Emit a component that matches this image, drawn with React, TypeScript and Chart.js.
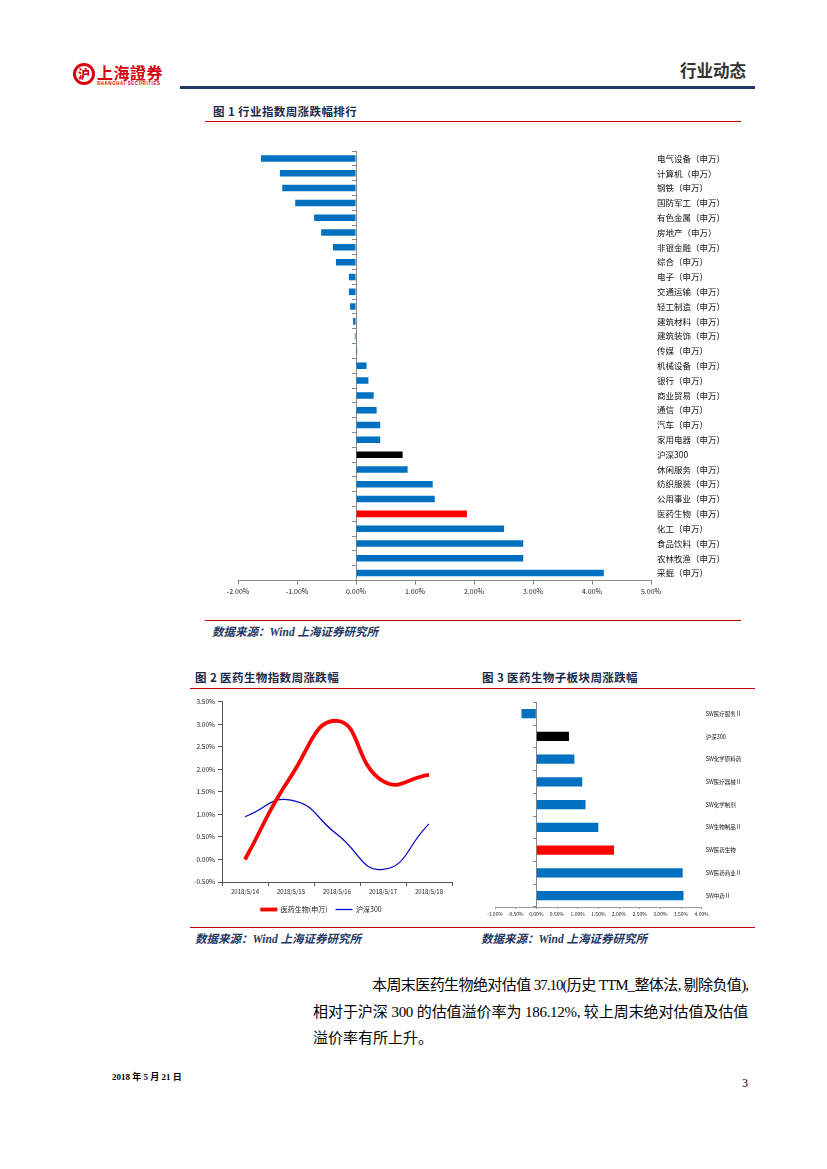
import React, { useEffect, useRef } from 'react';
import { Chart, registerables } from 'chart.js';

Chart.register(...registerables);

// ---------- data ----------
const industries = [
  '电气设备（申万）', '计算机（申万）', '钢铁（申万）', '国防军工（申万）', '有色金属（申万）',
  '房地产（申万）', '非银金融（申万）', '综合（申万）', '电子（申万）', '交通运输（申万）',
  '轻工制造（申万）', '建筑材料（申万）', '建筑装饰（申万）', '传媒（申万）', '机械设备（申万）',
  '银行（申万）', '商业贸易（申万）', '通信（申万）', '汽车（申万）', '家用电器（申万）',
  '沪深300', '休闲服务（申万）', '纺织服装（申万）', '公用事业（申万）', '医药生物（申万）',
  '化工（申万）', '食品饮料（申万）', '农林牧渔（申万）', '采掘（申万）',
];
const industryChanges = [
  -1.61, -1.29, -1.25, -1.03, -0.71,
  -0.59, -0.39, -0.34, -0.12, -0.12,
  -0.10, -0.05, -0.02, 0.02, 0.18,
  0.21, 0.30, 0.35, 0.41, 0.41,
  0.79, 0.875, 1.30, 1.335, 1.88,
  2.51, 2.835, 2.835, 4.20,
];
const industryTicks = { min: -2, max: 5, step: 1 };

const weekDates = ['2018/5/14', '2018/5/15', '2018/5/16', '2018/5/17', '2018/5/18'];
const pharmaCum = [0.0, 1.85, 3.08, 1.74, 1.88];
const hs300Cum = [0.95, 1.32, 0.56, -0.22, 0.79];
const lineSeriesNames = ['医药生物(申万)', '沪深300'];
const lineTicks = { min: -0.5, max: 3.5, step: 0.5 };

const subSectors = [
  'SW医疗服务Ⅱ', '沪深300', 'SW化学原料药', 'SW医疗器械Ⅱ', 'SW化学制剂',
  'SW生物制品Ⅱ', 'SW医药生物', 'SW医药商业Ⅱ', 'SW中药Ⅱ',
];
const subChanges = [-0.36, 0.79, 0.92, 1.11, 1.19, 1.50, 1.88, 3.54, 3.56];
const subTicks = { min: -1, max: 4, step: 0.5 };

// ---------- styles ----------
const BLUE = '#0070C0';
const RED = '#FF0000';
const BLACK = '#000000';
const NAVY = '#1F3864';
const CJK = '"Noto Sans CJK SC", sans-serif';
const SERIF = '"Liberation Serif", "Noto Sans CJK SC", serif';

Chart.defaults.font.family = CJK;

const barColor = (label: string) =>
  label === '沪深300' ? BLACK : label.indexOf('医药生物') >= 0 ? RED : BLUE;

const pct = (v: any) => Number(v).toFixed(2) + '%';

function useChart(ref: React.RefObject<HTMLCanvasElement>, make: () => any) {
  useEffect(() => {
    if (!ref.current) return;
    const chart = new Chart(ref.current, make());
    return () => chart.destroy();
  }, []);
}

function Box(props: { x: number; y: number; w: number; h: number; children?: any }) {
  return (
    <div style={{ position: 'absolute', left: props.x, top: props.y, width: props.w, height: props.h }}>
      {props.children}
    </div>
  );
}

function Txt(props: {
  x: number; y: number; size: number; children: any; color?: string; bold?: boolean;
  italic?: boolean; family?: string; w?: number; justify?: boolean; spacing?: number;
}) {
  const lh = Math.round(props.size * 1.3);
  return (
    <div
      style={{
        position: 'absolute',
        left: props.x,
        top: props.y - lh / 2,
        width: props.w,
        height: lh,
        lineHeight: lh + 'px',
        fontSize: props.size,
        color: props.color || '#000',
        fontWeight: props.bold ? 700 : 400,
        fontStyle: props.italic ? 'italic' : 'normal',
        fontFamily: props.family || CJK,
        whiteSpace: 'nowrap',
        textAlign: props.justify ? 'justify' : 'left',
        textAlignLast: props.justify ? 'justify' : 'auto',
        letterSpacing: props.spacing || 0,
      } as React.CSSProperties}
    >
      {props.children}
    </div>
  );
}

function Line(props: { x: number; y: number; w: number; h: number; color: string }) {
  return (
    <div style={{ position: 'absolute', left: props.x, top: props.y, width: props.w, height: props.h, background: props.color }} />
  );
}

function IndustryChart() {
  const ref = useRef<HTMLCanvasElement>(null);
  useChart(ref, () => ({
    type: 'bar',
    data: {
      labels: industries,
      datasets: [{
        data: industryChanges,
        backgroundColor: industries.map(barColor),
        barPercentage: 1,
        categoryPercentage: 0.44,
      }],
    },
    options: {
      indexAxis: 'y',
      animation: false,
      responsive: true,
      maintainAspectRatio: false,
      layout: { padding: { left: 38, top: 8, right: 0, bottom: 0 } },
      plugins: { legend: { display: false }, tooltip: { enabled: false } },
      scales: {
        x: {
          type: 'linear', min: industryTicks.min, max: industryTicks.max,
          ticks: { stepSize: industryTicks.step, callback: pct, font: { size: 7 }, color: '#222', padding: 3, autoSkip: false, maxRotation: 0 },
          grid: { drawOnChartArea: false, drawTicks: true, tickLength: 4, color: '#888' },
          border: { color: '#888' },
          afterFit: (s: any) => { s.height = 29.5; },
        },
        y: {
          position: 'right',
          grid: { display: false, drawTicks: false },
          border: { display: false },
          ticks: { font: { size: 8.5 }, color: '#111', padding: 6, autoSkip: false },
          afterFit: (s: any) => { s.width = 109; },
        },
        y2: {
          type: 'category', axis: 'y', position: { x: 0 }, offset: true,
          grid: { offset: true, drawOnChartArea: false, drawTicks: true, tickLength: 4, color: '#888' },
          border: { color: '#888' },
          ticks: { display: false, autoSkip: false },
        },
      },
    },
  }));
  return <canvas ref={ref} />;
}

function LineChart() {
  const ref = useRef<HTMLCanvasElement>(null);
  useChart(ref, () => ({
    type: 'line',
    data: {
      labels: weekDates,
      datasets: [
        { label: lineSeriesNames[0], data: pharmaCum, borderColor: RED, backgroundColor: RED, borderWidth: 3.8, pointRadius: 0, tension: 0.5, fill: false },
        { label: lineSeriesNames[1], data: hs300Cum, borderColor: '#0000C8', backgroundColor: '#0000C8', borderWidth: 1.2, pointRadius: 0, tension: 0.5, fill: false },
      ],
    },
    options: {
      animation: false,
      responsive: true,
      maintainAspectRatio: false,
      layout: { padding: { left: 0, top: 6.7, right: 8, bottom: 4 } },
      plugins: {
        tooltip: { enabled: false },
        legend: {
          position: 'bottom',
          labels: { usePointStyle: true, pointStyle: 'line', pointStyleWidth: 17, font: { size: 7 }, color: '#222', padding: 8 },
        },
      },
      scales: {
        x: {
          offset: true,
          grid: { offset: true, drawOnChartArea: false, drawTicks: true, tickLength: 4, color: '#555' },
          border: { color: '#555' },
          ticks: { font: { size: 6 }, color: '#222', maxRotation: 0, autoSkip: false, padding: 2 },
          afterFit: (s: any) => { s.height = 16; },
        },
        y: {
          min: lineTicks.min, max: lineTicks.max,
          ticks: { stepSize: lineTicks.step, callback: pct, font: { size: 6.5 }, color: '#222', padding: 3 },
          grid: { drawOnChartArea: false, drawTicks: true, tickLength: 4, color: '#555' },
          border: { color: '#555' },
          afterFit: (s: any) => { s.width = 32; },
        },
      },
    },
  }));
  return <canvas ref={ref} />;
}

function SubSectorChart() {
  const ref = useRef<HTMLCanvasElement>(null);
  useChart(ref, () => ({
    type: 'bar',
    data: {
      labels: subSectors,
      datasets: [{
        data: subChanges,
        backgroundColor: subSectors.map(barColor),
        barPercentage: 1,
        categoryPercentage: 0.4,
      }],
    },
    options: {
      indexAxis: 'y',
      animation: false,
      responsive: true,
      maintainAspectRatio: false,
      layout: { padding: { left: 15, top: 5.5, right: 0, bottom: 0 } },
      plugins: { legend: { display: false }, tooltip: { enabled: false } },
      scales: {
        x: {
          type: 'linear', min: subTicks.min, max: subTicks.max,
          ticks: { stepSize: subTicks.step, callback: pct, font: { size: 5 }, color: '#222', padding: 2, autoSkip: false, maxRotation: 0 },
          grid: { drawOnChartArea: false, drawTicks: true, tickLength: 2, color: '#999' },
          border: { color: '#999' },
          afterFit: (s: any) => { s.height = 18; },
        },
        y: {
          position: 'right',
          grid: { display: false, drawTicks: false },
          border: { display: false },
          ticks: { font: { size: 5.5 }, color: '#111', padding: 4, autoSkip: false },
          afterFit: (s: any) => { s.width = 48.3; },
        },
        y2: {
          type: 'category', axis: 'y', position: { x: 0 }, offset: true,
          grid: { offset: true, drawOnChartArea: false, drawTicks: true, tickLength: 3, color: '#888' },
          border: { color: '#888' },
          ticks: { display: false, autoSkip: false },
        },
      },
    },
  }));
  return <canvas ref={ref} />;
}

export default function App() {
  const source = '数据来源：Wind 上海证券研究所';
  return (
    <div style={{ position: 'absolute', left: 0, top: 0, width: 827, height: 1169, background: '#fff', overflow: 'hidden' }}>
      {/* logo */}
      <div style={{ position: 'absolute', left: 73, top: 63, width: 22, height: 22, borderRadius: '50%', background: '#D7000F' }}>
        <div style={{ position: 'absolute', left: 3, top: 3, width: 16, height: 16, borderRadius: '50%', background: '#fff' }} />
        <div style={{ position: 'absolute', left: 0, top: 0, width: 22, height: 22, lineHeight: '22px', textAlign: 'center', color: '#D7000F', fontFamily: CJK, fontWeight: 900, fontSize: 12 }}>沪</div>
      </div>
      <Txt x={97} y={72} size={16} color="#D7000F" bold spacing={0.5}>上海證券</Txt>
      <Txt x={97} y={84} size={4.5} color="#D7000F" bold family='"Liberation Sans", sans-serif' spacing={0.6}>SHANGHAI SECURITIES</Txt>
      <Txt x={680} y={70} size={16.5} color="#333" bold>行业动态</Txt>
      <Line x={180} y={86} w={575} h={2.5} color={NAVY} />

      {/* figure 1 */}
      <Txt x={213} y={111} size={11.5} color="#1a2a4a" bold spacing={0.4}>图 1 行业指数周涨跌幅排行</Txt>
      <Line x={205} y={121} w={536} h={1} color="#C00000" />
      <Box x={200} y={140} w={560} h={470}><IndustryChart /></Box>
      <Line x={205} y={620} w={536} h={1} color="#C00000" />
      <Txt x={212} y={632} size={11.5} color={NAVY} bold italic family={SERIF}>{source}</Txt>

      {/* figures 2 & 3 */}
      <Txt x={195} y={677} size={11.5} color="#1a2a4a" bold spacing={0.4}>图 2 医药生物指数周涨跌幅</Txt>
      <Txt x={482} y={677} size={11.5} color="#1a2a4a" bold spacing={0.4}>图 3 医药生物子板块周涨跌幅</Txt>
      <Line x={190} y={688} w={565} h={1} color="#C00000" />
      <Box x={190} y={695} w={270} h={232}><LineChart /></Box>
      <Box x={480} y={695} w={270} h={230}><SubSectorChart /></Box>
      <Line x={190} y={927} w={565} h={1} color="#C00000" />
      <Txt x={195} y={939} size={11.5} color={NAVY} bold italic family={SERIF}>{source}</Txt>
      <Txt x={481} y={939} size={11.5} color={NAVY} bold italic family={SERIF}>{source}</Txt>

      {/* paragraph */}
      <Txt x={372} y={985} size={15} w={376} justify family={SERIF} spacing={-1.0}>本周末医药生物绝对估值 37.10(历史 TTM_整体法, 剔除负值),</Txt>
      <Txt x={313} y={1012} size={15} w={435} justify family={SERIF} spacing={-0.3}>相对于沪深 300 的估值溢价率为 186.12%, 较上周末绝对估值及估值</Txt>
      <Txt x={313} y={1038} size={15} family={SERIF}>溢价率有所上升。</Txt>

      {/* footer */}
      <Txt x={112} y={1077} size={9} bold family={SERIF}>2018 年 5 月 21 日</Txt>
      <Txt x={742} y={1083} size={12} family={SERIF}>3</Txt>
    </div>
  );
}
